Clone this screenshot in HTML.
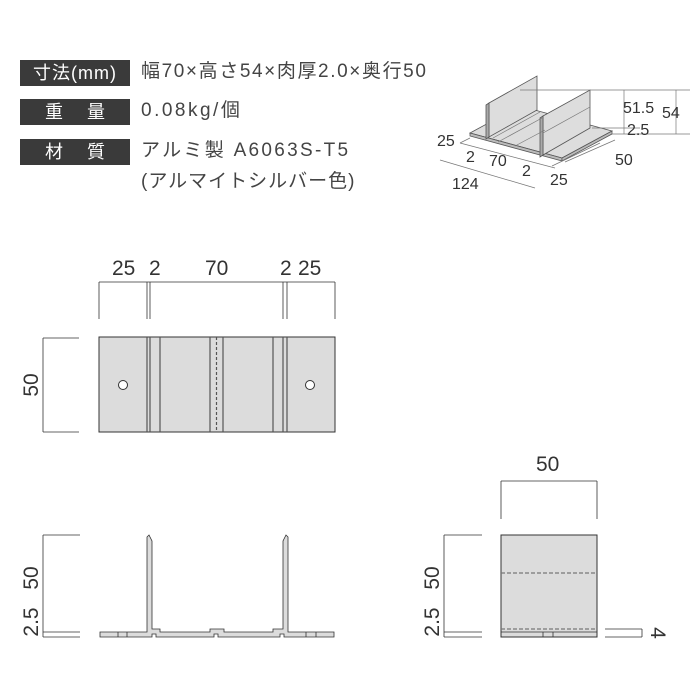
<!DOCTYPE html>
<html><head><meta charset="utf-8"><style>
html,body{margin:0;padding:0;background:#fff;}
body{width:700px;height:700px;position:relative;overflow:hidden;font-family:"Liberation Sans","Noto Sans CJK JP",sans-serif;}
.lb{position:absolute;left:20px;width:110px;height:26px;background:#3a3a3a;color:#fff;font-size:18px;line-height:26px;text-align:center;}
.tx{position:absolute;left:141px;font-size:19px;color:#444;line-height:26px;white-space:nowrap;letter-spacing:2px;}
svg{position:absolute;left:0;top:0;}
svg text{font-family:"Liberation Sans",sans-serif;fill:#333;}
</style></head><body>
<div class="lb" style="top:60px;letter-spacing:1px">寸法(mm)</div>
<div class="lb" style="top:99px;letter-spacing:24px;text-indent:24px">重量</div>
<div class="lb" style="top:139px;letter-spacing:24px;text-indent:24px">材質</div>
<div class="tx" style="top:59px;letter-spacing:1.6px">幅70×高さ54×肉厚2.0×奥行50</div>
<div class="tx" style="top:98px;letter-spacing:2.5px">0.08kg/個</div>
<div class="tx" style="top:138px;letter-spacing:2.3px">アルミ製 A6063S-T5</div>
<div class="tx" style="top:169px;letter-spacing:1px">(アルマイトシルバー色)</div>
<svg width="700" height="700" viewBox="0 0 700 700">
<g stroke="#555" stroke-width="0.8" fill="#ddd">
<polygon points="470,133 562,158 612,131 520,106"/>
<polygon points="470,133 562,158 562,161 470,136" fill="#bbb"/>
<polygon points="562,158 612,131 612,134 562,161" fill="#bbb"/>
<polygon points="489,103 537,76 537,110 489,137"/>
<polygon points="489,103 486,105 486,139 489,137" fill="#aaa"/>
<polygon points="543,116 590,90 590,128 543,155"/>
<polygon points="543,116 540,118 540,157 543,155" fill="#aaa"/>
</g>
<g stroke="#777" stroke-width="0.7" fill="none">
<line x1="493" y1="138" x2="540" y2="112"/><line x1="498" y1="142" x2="542" y2="118"/>
<line x1="515" y1="146" x2="545" y2="130"/><line x1="543" y1="133" x2="590" y2="107"/>
<line x1="520" y1="90" x2="690" y2="90"/><line x1="592" y1="128" x2="640" y2="128"/><line x1="612" y1="134" x2="690" y2="134"/>
<line x1="624" y1="90" x2="624" y2="134"/><line x1="676" y1="90" x2="676" y2="134"/>
<line x1="470" y1="138" x2="460" y2="143"/><line x1="460" y1="143" x2="555" y2="168"/>
<line x1="440" y1="160" x2="535" y2="188"/><line x1="565" y1="162" x2="615" y2="140"/><line x1="552" y1="166" x2="600" y2="143"/>
</g>
<g font-size="16">
<text x="437" y="146">25</text><text x="466" y="162">2</text><text x="489" y="166">70</text><text x="522" y="176">2</text><text x="550" y="185">25</text><text x="452" y="189">124</text>
<text x="615" y="165">50</text><text x="623" y="113">51.5</text><text x="662" y="118">54</text><text x="627" y="135">2.5</text>
</g>
<g stroke="#333" stroke-width="0.8" fill="none">
<line x1="99" y1="282" x2="335" y2="282"/>
<line x1="99" y1="282" x2="99" y2="319"/><line x1="147" y1="282" x2="147" y2="319"/><line x1="150" y1="282" x2="150" y2="319"/>
<line x1="283" y1="282" x2="283" y2="319"/><line x1="287" y1="282" x2="287" y2="319"/><line x1="335" y1="282" x2="335" y2="319"/>
<line x1="43" y1="338" x2="43" y2="432"/><line x1="43" y1="338" x2="79" y2="338"/><line x1="43" y1="432" x2="79" y2="432"/>
</g>
<g font-size="21">
<text x="112" y="275">25</text><text x="149" y="275">2</text><text x="205" y="275">70</text><text x="280" y="275">2</text><text x="298" y="275">25</text>
<text transform="translate(38,385) rotate(-90)" text-anchor="middle">50</text>
</g>
<rect x="99" y="337" width="236" height="95" fill="#dcdcdc" stroke="#333" stroke-width="1"/>
<g stroke="#555" stroke-width="1.2">
<line x1="147" y1="337" x2="147" y2="432"/><line x1="150" y1="337" x2="150" y2="432"/><line x1="160" y1="337" x2="160" y2="432"/>
<line x1="210" y1="337" x2="210" y2="432"/><line x1="223" y1="337" x2="223" y2="432"/>
<line x1="273" y1="337" x2="273" y2="432"/><line x1="283" y1="337" x2="283" y2="432"/><line x1="287" y1="337" x2="287" y2="432"/>
<line x1="216.5" y1="337" x2="216.5" y2="432" stroke-dasharray="3,2"/>
</g>
<circle cx="123" cy="385" r="4.5" fill="#fff" stroke="#333"/><circle cx="310" cy="385" r="4.5" fill="#fff" stroke="#333"/>
<g stroke="#333" stroke-width="0.8" fill="none">
<line x1="43" y1="535" x2="43" y2="637"/><line x1="43" y1="535" x2="80" y2="535"/><line x1="43" y1="632" x2="80" y2="632"/><line x1="43" y1="637" x2="80" y2="637"/>
</g>
<g font-size="21">
<text transform="translate(38,578) rotate(-90)" text-anchor="middle">50</text>
<text transform="translate(38,622) rotate(-90)" text-anchor="middle">2.5</text>
</g>
<g fill="#dcdcdc" stroke="#333" stroke-width="0.8">
<polygon points="100,632 147,632 147,537 149,535 152,541 152,629 160,629 160,632 210,632 210,629 224,629 224,632 273,632 273,629 283,629 283,541 286,535 288,537 288,632 334,632 334,637 288,637 284,637 284,634 280,634 280,637 218,637 218,634 214,634 214,637 156,637 156,634 152,634 152,637 100,637"/>
<line x1="118" y1="632" x2="118" y2="637"/><line x1="127" y1="632" x2="127" y2="637"/>
<line x1="306" y1="632" x2="306" y2="637"/><line x1="316" y1="632" x2="316" y2="637"/>
</g>
<g stroke="#333" stroke-width="0.8" fill="none">
<line x1="444" y1="535" x2="444" y2="637"/><line x1="444" y1="535" x2="482" y2="535"/><line x1="444" y1="632" x2="482" y2="632"/><line x1="444" y1="637" x2="482" y2="637"/>
<line x1="501" y1="481" x2="597" y2="481"/><line x1="501" y1="481" x2="501" y2="519"/><line x1="597" y1="481" x2="597" y2="519"/>
<line x1="605" y1="629" x2="642" y2="629"/><line x1="605" y1="637" x2="642" y2="637"/><line x1="642" y1="629" x2="642" y2="637"/>
</g>
<g font-size="21">
<text transform="translate(439,578) rotate(-90)" text-anchor="middle">50</text>
<text transform="translate(439,622) rotate(-90)" text-anchor="middle">2.5</text>
<text x="536" y="471">50</text>
<text transform="translate(651,633) rotate(90)" text-anchor="middle">4</text>
</g>
<rect x="501" y="535" width="96" height="102" fill="#dcdcdc" stroke="#333" stroke-width="1"/>
<g stroke="#777" stroke-width="1.2" stroke-dasharray="4,2"><line x1="501" y1="573" x2="597" y2="573"/><line x1="501" y1="629" x2="597" y2="629"/></g>
<g stroke="#333" stroke-width="0.8"><line x1="501" y1="632" x2="597" y2="632"/><line x1="543" y1="632" x2="543" y2="637"/><line x1="553" y1="632" x2="553" y2="637"/></g>
</svg>
</body></html>
